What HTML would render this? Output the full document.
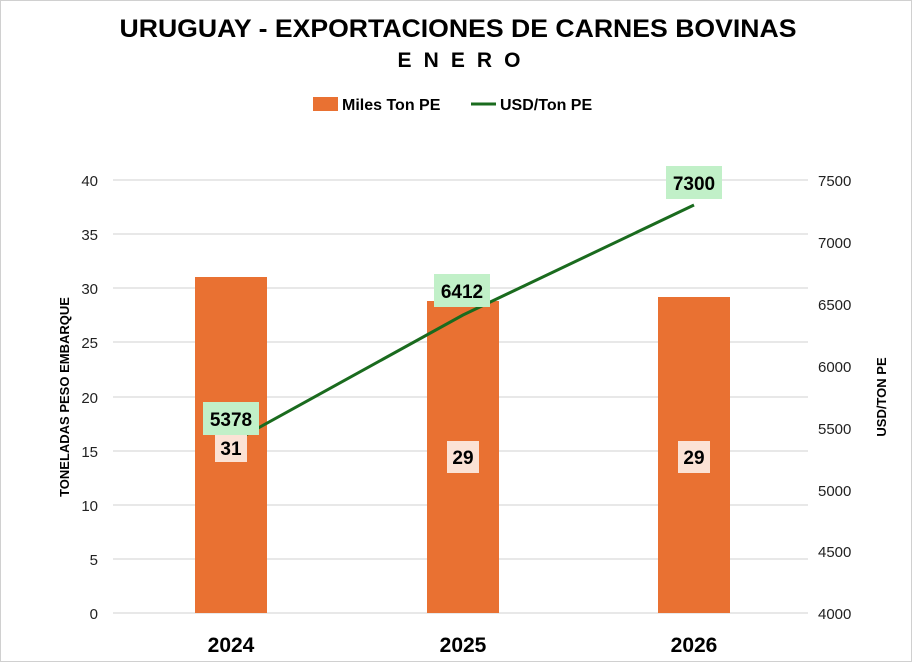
<!DOCTYPE html>
<html><head><meta charset="utf-8"><style>
html,body{margin:0;padding:0;background:#fff}
svg{display:block;font-family:"Liberation Sans",sans-serif}
</style></head><body>
<svg width="912" height="662" viewBox="0 0 912 662" xmlns="http://www.w3.org/2000/svg">
<rect x="0.5" y="0.5" width="911" height="661" fill="#fff" stroke="#d0d0d0"/>
<text x="458" y="37" text-anchor="middle" font-size="25" font-weight="bold" textLength="677" lengthAdjust="spacingAndGlyphs">URUGUAY - EXPORTACIONES DE CARNES BOVINAS</text>
<text x="459" y="67" text-anchor="middle" font-size="21" font-weight="bold" textLength="123" lengthAdjust="spacing">E N E R O</text>
<rect x="313" y="97" width="25" height="14" fill="#e97132"/>
<text x="342" y="110" font-size="16" font-weight="bold">Miles Ton PE</text>
<line x1="471" y1="104" x2="496" y2="104" stroke="#1a6b1e" stroke-width="3"/>
<text x="500" y="110" font-size="16" font-weight="bold">USD/Ton PE</text>
<g stroke="#d9d9d9" stroke-width="1.3">
<line x1="113" y1="180" x2="808" y2="180"/>
<line x1="113" y1="234" x2="808" y2="234"/>
<line x1="113" y1="288" x2="808" y2="288"/>
<line x1="113" y1="342" x2="808" y2="342"/>
<line x1="113" y1="397" x2="808" y2="397"/>
<line x1="113" y1="451" x2="808" y2="451"/>
<line x1="113" y1="505" x2="808" y2="505"/>
<line x1="113" y1="559" x2="808" y2="559"/>
<line x1="113" y1="613" x2="808" y2="613"/>
</g>
<g font-size="15" fill="#222" text-anchor="end">
<text x="98" y="186">40</text><text x="98" y="240">35</text><text x="98" y="294">30</text>
<text x="98" y="348">25</text><text x="98" y="403">20</text><text x="98" y="457">15</text>
<text x="98" y="511">10</text><text x="98" y="565">5</text><text x="98" y="619">0</text>
</g>
<g font-size="15" fill="#222" text-anchor="start">
<text x="818" y="186">7500</text><text x="818" y="248">7000</text><text x="818" y="310">6500</text>
<text x="818" y="372">6000</text><text x="818" y="434">5500</text><text x="818" y="496">5000</text>
<text x="818" y="557">4500</text><text x="818" y="619">4000</text>
</g>
<text transform="translate(69,397) rotate(-90)" text-anchor="middle" font-size="13" font-weight="bold">TONELADAS PESO EMBARQUE</text>
<text transform="translate(886,397) rotate(-90)" text-anchor="middle" font-size="13" font-weight="bold">USD/TON PE</text>
<rect x="195" y="277" width="72" height="336" fill="#e97132"/>
<rect x="427" y="301" width="72" height="312" fill="#e97132"/>
<rect x="658" y="297" width="72" height="316" fill="#e97132"/>
<polyline points="231,443 463,315 694,205" fill="none" stroke="#1a6b1e" stroke-width="3"/>
<rect x="215" y="435" width="32" height="27" fill="#fbe2d5"/>
<text x="231" y="455" text-anchor="middle" font-size="19" font-weight="bold">31</text>
<rect x="447" y="441" width="32" height="32" fill="#fbe2d5"/>
<text x="463" y="464" text-anchor="middle" font-size="19" font-weight="bold">29</text>
<rect x="678" y="441" width="32" height="32" fill="#fbe2d5"/>
<text x="694" y="464" text-anchor="middle" font-size="19" font-weight="bold">29</text>
<rect x="203" y="402" width="56" height="33" fill="#c1f0c8"/>
<text x="231" y="426" text-anchor="middle" font-size="19" font-weight="bold">5378</text>
<rect x="434" y="274" width="56" height="33" fill="#c1f0c8"/>
<text x="462" y="298" text-anchor="middle" font-size="19" font-weight="bold">6412</text>
<rect x="666" y="166" width="56" height="33" fill="#c1f0c8"/>
<text x="694" y="190" text-anchor="middle" font-size="19" font-weight="bold">7300</text>
<g font-size="21" font-weight="bold" text-anchor="middle">
<text x="231" y="652">2024</text><text x="463" y="652">2025</text><text x="694" y="652">2026</text>
</g>
</svg>
</body></html>
